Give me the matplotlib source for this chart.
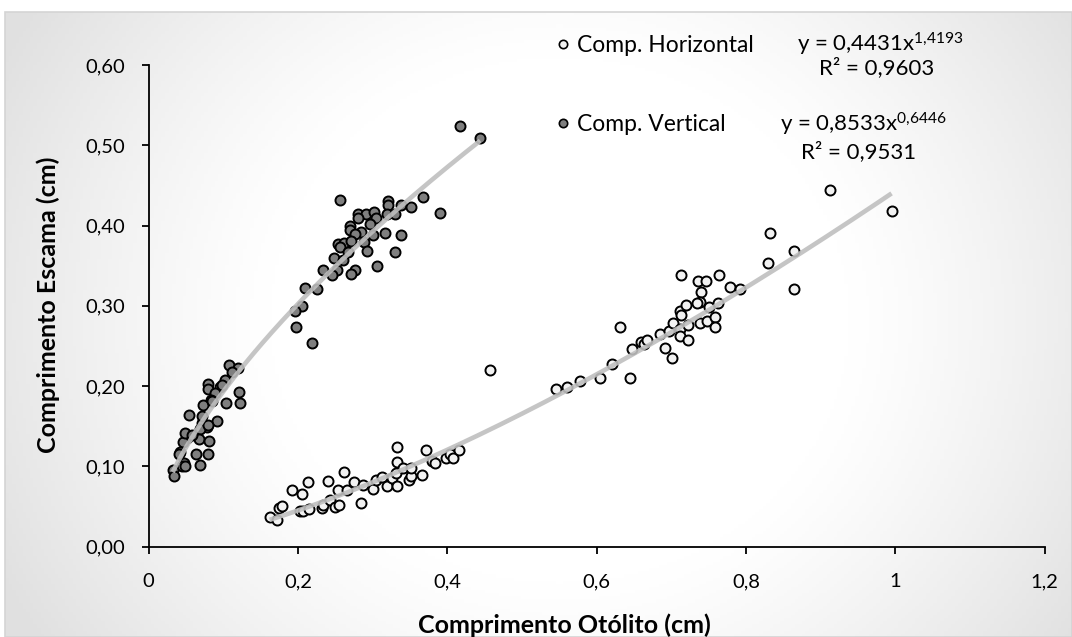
import numpy as np
import matplotlib
matplotlib.use("Agg")
import matplotlib.pyplot as plt
from matplotlib.lines import Line2D
from matplotlib.patches import Rectangle

plt.rcParams['font.family'] = ['Lato', 'DejaVu Sans']
plt.rcParams['mathtext.fontset'] = 'custom'
plt.rcParams['mathtext.rm'] = 'Lato'
plt.rcParams['mathtext.default'] = 'regular'

# Otolith length (cm) vs scale length (cm), horizontal measurement
horiz_x = [0.162, 0.172, 0.175, 0.178, 0.192, 0.205, 0.214, 0.203, 0.207, 0.215,
           0.232, 0.240, 0.234, 0.243, 0.249, 0.255, 0.254, 0.262, 0.266, 0.275,
           0.284, 0.287, 0.300, 0.305, 0.312, 0.319, 0.326, 0.332, 0.332, 0.333,
           0.331, 0.341, 0.348, 0.351, 0.351, 0.366, 0.372, 0.379, 0.383, 0.398,
           0.403, 0.408, 0.416, 0.457, 0.546, 0.560, 0.578, 0.604, 0.620, 0.645,
           0.631, 0.648, 0.660, 0.664, 0.667, 0.685, 0.692, 0.701, 0.697, 0.702,
           0.711, 0.711, 0.712, 0.713, 0.713, 0.723, 0.723, 0.720, 0.736, 0.746,
           0.740, 0.739, 0.734, 0.739, 0.748, 0.750, 0.758, 0.758, 0.763, 0.764,
           0.779, 0.792, 0.830, 0.832, 0.864, 0.864, 0.912, 0.995]
horiz_y = [0.037, 0.033, 0.048, 0.051, 0.071, 0.066, 0.081, 0.044, 0.044, 0.047,
           0.048, 0.082, 0.052, 0.058, 0.049, 0.052, 0.070, 0.093, 0.071, 0.081,
           0.055, 0.077, 0.072, 0.083, 0.087, 0.075, 0.085, 0.076, 0.124, 0.105,
           0.092, 0.098, 0.083, 0.088, 0.098, 0.089, 0.121, 0.107, 0.104, 0.110,
           0.116, 0.110, 0.120, 0.220, 0.197, 0.199, 0.206, 0.210, 0.227, 0.210,
           0.273, 0.246, 0.255, 0.252, 0.258, 0.265, 0.248, 0.235, 0.268, 0.279,
           0.271, 0.262, 0.294, 0.289, 0.338, 0.276, 0.257, 0.301, 0.331, 0.331,
           0.317, 0.305, 0.304, 0.278, 0.281, 0.298, 0.286, 0.273, 0.303, 0.338,
           0.323, 0.321, 0.353, 0.391, 0.321, 0.368, 0.444, 0.418]

# Vertical measurement
vert_x = [0.417, 0.444, 0.256, 0.368, 0.390, 0.320, 0.321, 0.338, 0.352, 0.280,
          0.291, 0.302, 0.319, 0.330, 0.305, 0.280, 0.269, 0.297, 0.269, 0.285,
          0.276, 0.301, 0.317, 0.338, 0.254, 0.261, 0.271, 0.288, 0.256, 0.267,
          0.293, 0.330, 0.248, 0.260, 0.306, 0.252, 0.276, 0.271, 0.233, 0.245,
          0.209, 0.226, 0.205, 0.196, 0.197, 0.219,
          0.108, 0.120, 0.112, 0.121, 0.122, 0.104, 0.079, 0.080, 0.096, 0.102,
          0.098, 0.089, 0.084, 0.073, 0.091, 0.071, 0.054, 0.078, 0.069, 0.080,
          0.051, 0.067, 0.081, 0.046, 0.049, 0.058, 0.042, 0.041, 0.064, 0.079,
          0.047, 0.044, 0.049, 0.069, 0.032, 0.034, 0.071, 0.085]
vert_y = [0.524, 0.509, 0.432, 0.435, 0.416, 0.430, 0.426, 0.426, 0.423, 0.414,
          0.414, 0.417, 0.414, 0.414, 0.409, 0.409, 0.400, 0.402, 0.395, 0.392,
          0.389, 0.388, 0.391, 0.388, 0.377, 0.378, 0.381, 0.380, 0.373, 0.367,
          0.368, 0.367, 0.359, 0.357, 0.350, 0.344, 0.344, 0.340, 0.344, 0.338,
          0.322, 0.321, 0.300, 0.293, 0.273, 0.254,
          0.226, 0.223, 0.218, 0.193, 0.179, 0.179, 0.202, 0.197, 0.199, 0.208,
          0.201, 0.192, 0.183, 0.177, 0.156, 0.154, 0.164, 0.149, 0.146, 0.152,
          0.135, 0.134, 0.132, 0.130, 0.141, 0.139, 0.118, 0.115, 0.115, 0.115,
          0.104, 0.100, 0.101, 0.102, 0.096, 0.088, 0.163, 0.181]

# Power-law trendlines y = a * x^b
horiz_fit = (0.4431, 1.4193, 0.9603)
vert_fit = (0.8533, 0.6446, 0.9531)

series_labels = ["Comp. Horizontal", "Comp. Vertical"]
x_ticks = [0, 0.2, 0.4, 0.6, 0.8, 1.0, 1.2]
x_tick_labels = ["0", "0,2", "0,4", "0,6", "0,8", "1", "1,2"]
y_ticks = [0.0, 0.1, 0.2, 0.3, 0.4, 0.5, 0.6]
y_tick_labels = ["0,00", "0,10", "0,20", "0,30", "0,40", "0,50", "0,60"]

W, H = 1072, 637
fig = plt.figure(figsize=(W / 100, H / 100), dpi=100)
fig.patch.set_facecolor("white")


def fx(px):
    return px / W


def fy(py):
    return 1 - py / H


# Chart-area background: soft radial shading inside a thin grey frame
left_px, top_px = 5, 12
bg = fig.add_axes([fx(left_px), 0, 1 - fx(left_px), fy(top_px)])
gx, gy = np.meshgrid(np.linspace(left_px, W, 300), np.linspace(top_px, H, 200))
r = np.hypot(gx - 560, (gy - 320) * 1.1)
t = np.clip((r - 290) / 340, 0, 1)
shade = 1 - 0.12 * t ** 1.2
bg.imshow(np.dstack([shade] * 3), aspect="auto", extent=(0, 1, 0, 1), origin="upper")
bg.set_axis_off()
fig.patches.append(Rectangle((fx(left_px), 0), 1 - fx(left_px), fy(top_px),
                             transform=fig.transFigure, fill=False,
                             edgecolor="#d4d4d4", linewidth=1.2, zorder=0.5))

ax = fig.add_axes([148.7 / W, fy(546.7), (1044.6 - 148.7) / W, (546.7 - 64.9) / H])
ax.set_facecolor("none")

mk = dict(s=52, linewidths=1.4, edgecolors="black", zorder=3)
ax.scatter(horiz_x, horiz_y, facecolors="#f2f2f2", **mk)
ax.scatter(vert_x, vert_y, facecolors="#7f7f7f", **mk)

for xs, (a, b, _) in ((horiz_x, horiz_fit), (vert_x, vert_fit)):
    xx = np.linspace(min(xs), max(xs), 200)
    ax.plot(xx, a * xx ** b, color="#bfbfbf", lw=3.3, alpha=0.9,
            solid_capstyle="butt", zorder=4)

ax.set_xlim(0, 1.2)
ax.set_ylim(0, 0.6)
ax.set_xticks(x_ticks)
ax.set_xticklabels(x_tick_labels)
ax.set_yticks(y_ticks)
ax.set_yticklabels(y_tick_labels)
for s in ("top", "right"):
    ax.spines[s].set_visible(False)
for s in ("left", "bottom"):
    ax.spines[s].set_linewidth(1.3)
    ax.spines[s].set_color("black")
ax.tick_params(axis="both", direction="out", length=5, width=1.3,
               labelsize=14.5, colors="black")
ax.tick_params(axis="x", pad=14)
ax.tick_params(axis="y", pad=12)

fig.text(fx(564), fy(625), "Comprimento Otólito (cm)", ha="center", va="center",
         fontsize=18, fontweight="bold")
fig.text(fx(48), fy(305), "Comprimento Escama (cm)", ha="center", va="center",
         rotation=90, fontsize=18, fontweight="bold")

handles = [
    Line2D([], [], ls="none", marker="o", markersize=6, markerfacecolor="#f2f2f2",
           markeredgecolor="black", markeredgewidth=1.2),
    Line2D([], [], ls="none", marker="o", markersize=6, markerfacecolor="#7f7f7f",
           markeredgecolor="black", markeredgewidth=1.2),
]
fig.legend(handles, series_labels, loc="upper left",
           bbox_to_anchor=(fx(556), fy(35)), frameon=False, fontsize=16.5,
           handlelength=0.6, handletextpad=0.3, labelspacing=2.55,
           borderpad=0, borderaxespad=0)

eq_size = 16
fig.text(fx(880), fy(51), "y = 0,4431x$^{1{,}4193}$", ha="center", va="baseline",
         fontsize=eq_size)
fig.text(fx(877), fy(74), "R² = 0,9603", ha="center", va="baseline", fontsize=eq_size)
fig.text(fx(863), fy(132), "y = 0,8533x$^{0{,}6446}$", ha="center", va="baseline",
         fontsize=eq_size)
fig.text(fx(859), fy(158), "R² = 0,9531", ha="center", va="baseline", fontsize=eq_size)

fig.savefig("out.png", dpi=100)
